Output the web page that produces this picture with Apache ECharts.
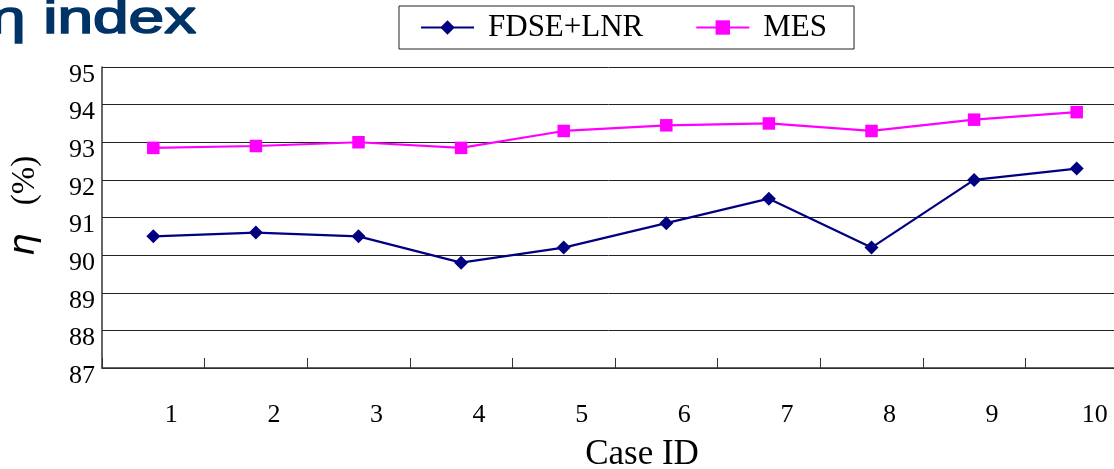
<!DOCTYPE html>
<html>
<head>
<meta charset="utf-8">
<style>
  html, body { margin: 0; padding: 0; background: #ffffff; }
  #chart { width: 1114px; height: 469px; }
</style>
<script src="https://cdn.jsdelivr.net/npm/echarts@6/dist/echarts.min.js"></script>
</head>
<body>
<div id="chart"></div>
<script>
// Case IDs on the horizontal axis
const caseIds = ['1', '2', '3', '4', '5', '6', '7', '8', '9', '10'];
// Efficiency η (%) per case for each method
const fdseLnr = [90.5, 90.6, 90.5, 89.8, 90.2, 90.85, 91.5, 90.2, 92.0, 92.3];
const mes = [92.85, 92.9, 93.0, 92.85, 93.3, 93.45, 93.5, 93.3, 93.6, 93.8];
// Y axis range
const yMin = 87, yMax = 95, yStep = 1;

const serif = '"Liberation Serif", "Times New Roman", serif';
const chart = echarts.init(document.getElementById('chart'), null, { renderer: 'canvas' });

chart.setOption({
  backgroundColor: '#ffffff',
  animation: false,
  grid: {
    left: 102, top: 67, width: 1026, height: 301,
    containLabel: false,
    outerBoundsMode: 'none'
  },
  legend: {
    left: 399,
    top: 6,
    padding: [6, 27, 6, 21],
    borderColor: '#222222',
    borderWidth: 1,
    backgroundColor: '#ffffff',
    itemWidth: 53,
    itemHeight: 18,
    itemGap: 52,
    textStyle: { fontFamily: serif, fontSize: 31, color: '#000000', padding: [0, 0, 0, 9] },
    data: ['FDSE+LNR', 'MES']
  },
  xAxis: {
    type: 'category',
    data: caseIds,
    boundaryGap: true,
    name: 'Case ID',
    nameLocation: 'middle',
    nameGap: 69,
    nameTextStyle: { fontFamily: serif, fontSize: 35, color: '#000000', padding: [0, 0, 0, 54] },
    axisLine: { show: true, lineStyle: { color: '#333333', width: 1.5 } },
    axisTick: { show: true, inside: true, length: 10, alignWithLabel: false, lineStyle: { color: '#333333', width: 1 } },
    axisLabel: { fontFamily: serif, fontSize: 26, color: '#000000', margin: 34, padding: [0, 0, 0, 36] },
    splitLine: { show: false }
  },
  yAxis: {
    type: 'value',
    min: yMin,
    max: yMax,
    interval: yStep,
    axisLine: { show: true, lineStyle: { color: '#333333', width: 1.5 } },
    axisTick: { show: false },
    axisLabel: {
      margin: 7,
      formatter: '{v|{value}}',
      rich: {
        v: { fontFamily: serif, fontSize: 26, color: '#000000', padding: [16, 0, 0, 0] }
      }
    },
    splitLine: { show: true, lineStyle: { color: '#222222', width: 1 } }
  },
  series: [
    {
      name: 'FDSE+LNR',
      type: 'line',
      data: fdseLnr,
      symbol: 'diamond',
      symbolSize: 14,
      lineStyle: { color: '#000080', width: 2.2 },
      itemStyle: { color: '#000080' }
    },
    {
      name: 'MES',
      type: 'line',
      data: mes,
      symbol: 'rect',
      symbolSize: 12.5,
      lineStyle: { color: '#ff00ff', width: 2.2 },
      itemStyle: { color: '#ff00ff' }
    }
  ],
  graphic: [
    {
      type: 'text',
      x: -10,
      y: 20,
      scaleX: 1.36,
      style: {
        text: 'η index',
        x: 0,
        y: 0,
        align: 'left',
        verticalAlign: 'middle',
        fontFamily: '"Liberation Sans", Arial, sans-serif',
        fontSize: 47,
        fill: '#003366',
        stroke: '#003366',
        lineWidth: 1.6
      }
    },
    {
      type: 'text',
      x: 25,
      y: 206,
      rotation: Math.PI / 2,
      style: {
        text: '{e|η}(%)',
        align: 'center',
        verticalAlign: 'middle',
        fontFamily: serif,
        fontSize: 33,
        fill: '#000000',
        rich: {
          e: { fontFamily: '"DejaVu Sans", sans-serif', fontStyle: 'italic', fontSize: 36, fill: '#000000', padding: [0, 28, 0, 0] }
        }
      }
    }
  ]
});
</script>
</body>
</html>
